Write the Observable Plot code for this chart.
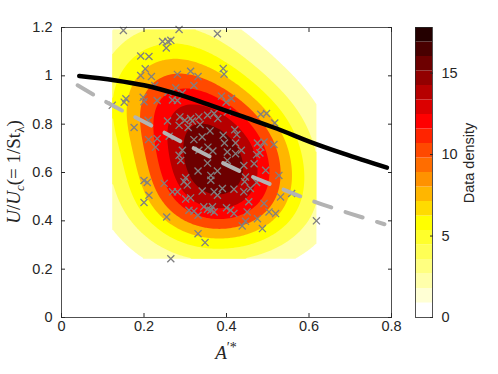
<!DOCTYPE html>
<html>
<head>
<meta charset="utf-8">
<script src="https://cdn.jsdelivr.net/npm/d3@7"></script>
<script src="https://cdn.jsdelivr.net/npm/@observablehq/plot@0.6"></script>
<style>
  html, body { margin: 0; padding: 0; background: white; }
  #wrap { position: relative; width: 498px; height: 374px; }
  #wrap svg { position: absolute; left: 0; top: 0; }
</style>
</head>
<body>
<div id="wrap"></div>
<script>
// ---- data ----
const ptX = [0.150,0.285,0.378,0.245,0.258,0.265,0.254,0.192,0.212,0.203,0.192,0.218,0.281,0.313,0.331,0.321,0.226,0.258,0.277,0.293,0.156,0.152,0.198,0.200,0.232,0.269,0.281,
  0.388,0.412,0.399,0.392,0.394,0.123,
  0.176,0.257,0.287,0.299,0.313,0.317,0.333,0.354,0.370,0.379,0.285,0.307,0.336,0.360,0.341,0.321,0.211,0.232,0.228,0.261,0.293,0.285,0.289,0.333,0.355,0.367,0.354,0.331,0.362,0.378,0.301,0.200,0.210,
  0.402,0.483,0.497,0.517,0.392,0.420,0.425,0.395,0.422,0.436,0.402,0.475,0.483,0.491,0.515,0.473,0.481,0.467,0.442,0.422,0.402,0.495,0.527,0.446,
  0.208,0.249,0.269,0.281,0.297,0.305,0.362,0.341,0.370,0.378,0.212,0.200,0.301,0.313,0.309,0.321,0.331,0.345,0.354,0.362,0.370,0.366,0.255,0.331,0.348,0.265,
  0.390,0.418,0.444,0.442,0.458,0.473,0.454,0.400,0.410,0.418,0.450,0.491,0.503,0.519,0.475,0.446,0.438,0.487,0.531,0.558,0.618];
const ptY = [1.188,1.192,1.174,1.142,1.142,1.147,1.115,1.082,1.080,1.029,1.001,0.997,1.006,1.019,0.997,0.960,0.960,0.932,0.950,0.929,0.905,0.891,0.911,0.893,0.898,0.900,0.898,
  0.916,0.906,0.891,1.030,1.007,0.878,
  0.786,0.813,0.830,0.816,0.823,0.813,0.830,0.837,0.844,0.823,0.795,0.786,0.799,0.772,0.747,0.736,0.736,0.740,0.705,0.750,0.692,0.671,0.650,0.692,0.705,0.689,0.639,0.606,0.588,0.606,0.578,0.567,0.816,
  0.851,0.841,0.844,0.805,0.754,0.777,0.757,0.722,0.722,0.692,0.685,0.722,0.705,0.726,0.716,0.674,0.681,0.636,0.629,0.678,0.650,0.609,0.588,0.581,
  0.559,0.555,0.520,0.520,0.562,0.548,0.568,0.523,0.520,0.506,0.506,0.476,0.490,0.495,0.444,0.440,0.423,0.458,0.448,0.444,0.437,0.458,0.416,0.347,0.310,0.243,
  0.534,0.531,0.562,0.520,0.534,0.559,0.479,0.454,0.444,0.430,0.437,0.472,0.437,0.430,0.409,0.398,0.379,0.368,0.499,0.513,0.400];

const blackX = [0.043, 0.128, 0.200, 0.281, 0.362, 0.442, 0.523, 0.604, 0.684, 0.789];
const blackY = [0.999, 0.982, 0.961, 0.924, 0.878, 0.830, 0.781, 0.726, 0.678, 0.620];

const grayX = [0.039, 0.123, 0.200, 0.280, 0.362, 0.442, 0.523, 0.612, 0.700, 0.783];
const grayY = [0.961, 0.878, 0.810, 0.737, 0.664, 0.598, 0.540, 0.480, 0.430, 0.386];

const xTicks = [0, 0.2, 0.4, 0.6, 0.8];
const yTicks = [0, 0.2, 0.4, 0.6, 0.8, 1, 1.2];
const colorbarTicks = [0, 5, 10, 15];
const colorMax = 17.8;            // top of the colour bar = peak density
const densityLevels = [2, 4, 6, 8, 10, 12, 14, 16];
const bandwidth = [0.11, 0.15];   // kernel widths in x and y (data units)

// flipped MATLAB "hot" with 20 entries (style)
const bandColors = ["#ffffff","#ffffd4","#ffffaa","#ffff80","#ffff55","#ffff2b","#ffff00","#ffdb00","#ffb600","#ff9200",
  "#ff6d00","#ff4900","#ff2400","#ff0000","#db0000","#b60000","#920000","#6d0000","#490000","#240000"];

// ---- derived ----
const nBands = bandColors.length;
const bandW = colorMax / nBands;
const bandEdges = d3.range(1, nBands).map(i => i * bandW);
const bandLows = d3.range(0, nBands).map(i => i * bandW);
const points = ptX.map((x, i) => ({x, y: ptY[i]}));
const blackLine = blackX.map((x, i) => ({x, y: blackY[i]}));
const grayLine = grayX.map((x, i) => ({x, y: grayY[i]}));

const [hx, hy] = bandwidth;
const N = ptX.length;
function kernelSum(x, y) {
  let s = 0;
  for (let i = 0; i < N; i++) {
    const u = (x - ptX[i]) / hx, v = (y - ptY[i]) / hy;
    s += Math.exp(-0.5 * (u * u + v * v));
  }
  return s;
}
const [xmin, xmax] = d3.extent(ptX);
const [ymin, ymax] = d3.extent(ptY);
let peak = 0;
for (let x = xmin; x <= xmax; x += 0.004) for (let y = ymin; y <= ymax; y += 0.004) peak = Math.max(peak, kernelSum(x, y));
const density = (x, y) => kernelSum(x, y) * colorMax / peak;

const colorScale = {type: "threshold", domain: bandEdges, range: bandColors};
const fontSans = "'Liberation Sans', Arial, Helvetica, sans-serif";
const ink = "#262626";

const main = Plot.plot({
  width: 498, height: 374,
  marginLeft: 61, marginRight: 107, marginTop: 27, marginBottom: 57,
  x: {domain: [0, 0.8]},
  y: {domain: [0, 1.2]},
  color: colorScale,
  style: {fontFamily: fontSans, fontSize: "14.5px", color: ink, background: "white"},
  marks: [
    Plot.contour({fill: density, x1: xmin, x2: xmax, y1: ymin, y2: ymax, thresholds: densityLevels, stroke: "none", pixelSize: 2}),
    Plot.dot(points, {x: "x", y: "y", symbol: "times", r: 3.3, stroke: "#808080", strokeWidth: 1.3}),
    Plot.line(grayLine, {x: "x", y: "y", stroke: "#b3b3b3", strokeWidth: 4, strokeDasharray: "18,15", curve: "monotone-x"}),
    Plot.line(blackLine, {x: "x", y: "y", stroke: "black", strokeWidth: 4.5, curve: "monotone-x"}),
    Plot.frame({stroke: ink, strokeWidth: 0.8}),
    Plot.axisX({ticks: xTicks, tickSize: -4, tickPadding: 7, tickFormat: d => String(d), label: null, stroke: ink}),
    Plot.axisX({anchor: "top", ticks: xTicks, tickSize: -4, tickFormat: () => "", label: null, stroke: ink}),
    Plot.axisY({ticks: yTicks, tickSize: -4, tickPadding: 13, tickFormat: d => String(d), label: null, stroke: ink}),
    Plot.axisY({anchor: "right", ticks: yTicks, tickSize: -4, tickFormat: () => "", label: null, stroke: ink})
  ]
});

const cbar = Plot.plot({
  width: 498, height: 374,
  marginLeft: 415, marginRight: 66, marginTop: 27, marginBottom: 57,
  x: {domain: [0, 1], axis: null},
  y: {domain: [0, colorMax]},
  color: colorScale,
  style: {fontFamily: fontSans, fontSize: "14.5px", color: ink, background: "transparent"},
  marks: [
    Plot.rect(bandLows, {x1: 0, x2: 1, y1: d => d, y2: d => d + bandW, fill: d => d + bandW / 2}),
    Plot.frame({stroke: ink, strokeWidth: 0.8}),
    Plot.axisY({anchor: "right", ticks: colorbarTicks, tickSize: -3, tickPadding: 12, tickFormat: d => String(d), label: null, stroke: ink})
  ]
});

const wrap = document.getElementById("wrap");
wrap.appendChild(main);
wrap.appendChild(cbar);

// axis titles
const svg = d3.select(main);
const serif = "'Liberation Serif', 'DejaVu Serif', 'Times New Roman', serif";
const yl = svg.append("text")
  .attr("transform", "translate(20,172) rotate(-90)")
  .attr("text-anchor", "middle")
  .attr("font-family", serif).attr("font-size", 19).attr("fill", ink);
yl.append("tspan").attr("font-style", "italic").text("U");
yl.append("tspan").text("/");
yl.append("tspan").attr("font-style", "italic").text("U");
yl.append("tspan").attr("font-style", "italic").attr("font-size", 13).attr("dy", 4).text("c");
yl.append("tspan").attr("dy", -4).text("(= 1/St");
yl.append("tspan").attr("font-size", 13).attr("dy", 4).text("λ");
yl.append("tspan").attr("dy", -4).text(")");

const xl = svg.append("text")
  .attr("x", 226).attr("y", 359)
  .attr("text-anchor", "middle")
  .attr("font-family", serif).attr("font-size", 19).attr("fill", ink);
xl.append("tspan").attr("font-style", "italic").text("A");
xl.append("tspan").attr("font-size", 14).attr("dy", -7).text("′*");

d3.select(cbar).append("text")
  .attr("transform", "translate(474,163) rotate(-90)")
  .attr("text-anchor", "middle")
  .attr("font-family", fontSans).attr("font-size", 14.5).attr("fill", ink)
  .text("Data density");
</script>
</body>
</html>
